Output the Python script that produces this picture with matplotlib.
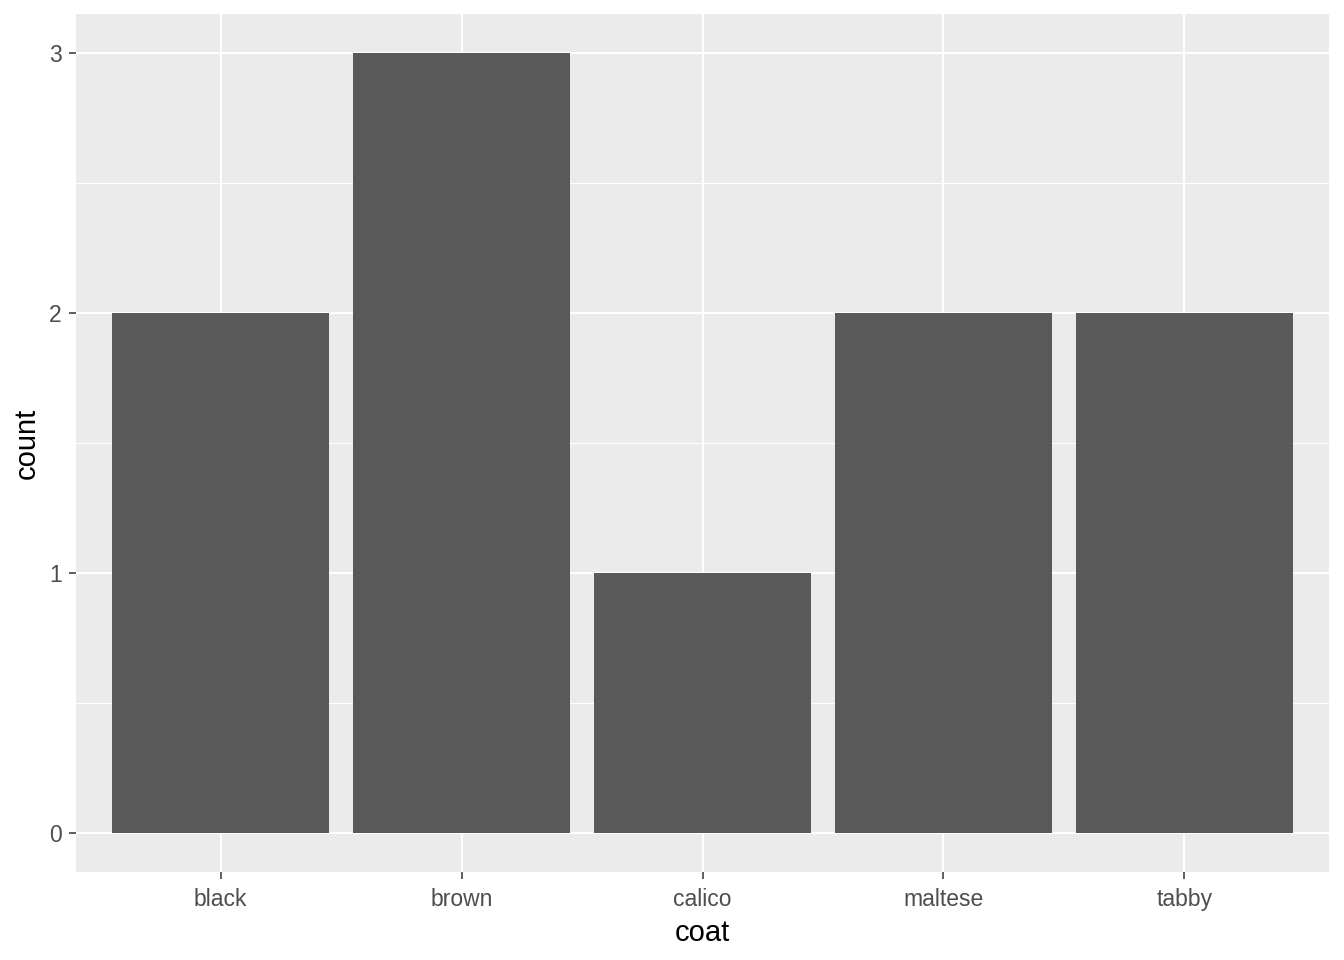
import matplotlib
matplotlib.use("Agg")
import matplotlib.pyplot as plt

# data
coats = ["black", "brown", "calico", "maltese", "tabby"]
counts = [2, 3, 1, 2, 2]

plt.rcParams["font.family"] = ["Liberation Sans", "DejaVu Sans"]

fig = plt.figure(figsize=(13.44, 9.6), dpi=100)
ax = fig.add_axes([76 / 1344, 88 / 960, (1329 - 76) / 1344, (872 - 14) / 960])

ax.set_facecolor("#EBEBEB")
x = list(range(1, len(coats) + 1))

# grid lines (ggplot style)
for v in [0.5, 1.5, 2.5]:
    ax.axhline(v, color="white", lw=0.8, zorder=0)
for v in [0, 1, 2, 3]:
    ax.axhline(v, color="white", lw=1.5, zorder=0)
for v in x:
    ax.axvline(v, color="white", lw=1.5, zorder=0)

ax.bar(x, counts, width=0.9, color="#595959", zorder=2)

ax.set_xlim(0.4, len(coats) + 0.6)
ax.set_ylim(-0.15, 3.15)
ax.set_xticks(x)
ax.set_xticklabels(coats)
ax.set_yticks([0, 1, 2, 3])

for s in ax.spines.values():
    s.set_visible(False)

ax.tick_params(axis="both", length=5.3, width=1.1, color="#333333",
               labelcolor="#4D4D4D", labelsize=16.5)
ax.tick_params(axis="x", pad=6)
ax.tick_params(axis="y", pad=5)

ax.set_xlabel("coat", fontsize=21, color="black", labelpad=6)
ax.set_ylabel("count", fontsize=21, color="black", labelpad=6)

fig.savefig("out.png", dpi=100, facecolor="white")
